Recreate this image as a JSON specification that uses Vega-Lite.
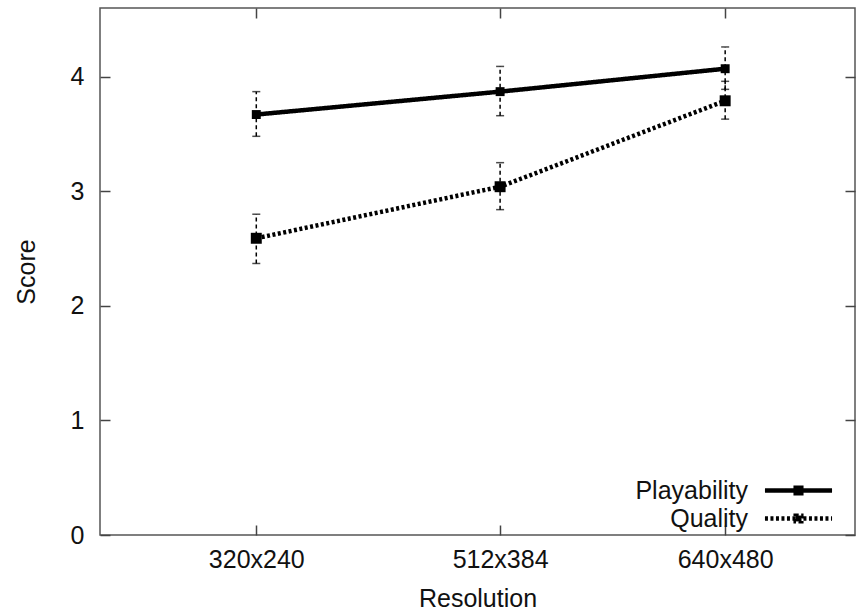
{
  "$schema": "https://vega.github.io/schema/vega-lite/v6.json",
  "width": 755,
  "height": 527,
  "autosize": {"type": "none"},
  "padding": {"left": 100, "top": 8, "right": 10, "bottom": 78},
  "background": "white",
  "config": {
    "font": "Liberation Sans",
    "view": {"stroke": "#555", "strokeWidth": 1.5},
    "axis": {"grid": false, "domain": false, "tickColor": "#444", "tickWidth": 1.5, "tickSize": 10, "offset": -10, "labelFontSize": 25, "titleFontSize": 25, "titleFontWeight": "normal", "labelColor": "#111", "titleColor": "#111", "labelFont": "Liberation Sans", "titleFont": "Liberation Sans"},
    "legend": {"labelFont": "Liberation Sans"}
  },
  "data": {
    "values": [
      {"series": "Playability", "pixels": 76800, "score": 3.67, "lo": 3.48, "hi": 3.87},
      {"series": "Playability", "pixels": 196608, "score": 3.87, "lo": 3.66, "hi": 4.09},
      {"series": "Playability", "pixels": 307200, "score": 4.07, "lo": 3.89, "hi": 4.26},
      {"series": "Quality", "pixels": 76800, "score": 2.59, "lo": 2.37, "hi": 2.80},
      {"series": "Quality", "pixels": 196608, "score": 3.04, "lo": 2.84, "hi": 3.25},
      {"series": "Quality", "pixels": 307200, "score": 3.79, "lo": 3.63, "hi": 3.96}
    ]
  },
  "resolve": {"axis": {"x": "independent", "y": "independent"}},
  "layer": [
    {
      "mark": {"type": "rule", "strokeWidth": 1.5, "strokeDash": [4, 3], "color": "#000"},
      "encoding": {
        "x": {"field": "pixels", "type": "quantitative", "scale": {"domain": [0, 371000], "nice": false, "zero": false},
              "axis": {"orient": "top", "offset": -10, "values": [76800, 196608, 307200], "labels": false, "title": null}},
        "y": {"field": "lo", "type": "quantitative", "scale": {"domain": [0, 4.6], "nice": false},
              "axis": {"orient": "right", "offset": -10, "values": [0, 1, 2, 3, 4], "labels": false, "title": null}},
        "y2": {"field": "hi"}
      }
    },
    {
      "mark": {"type": "tick", "orient": "horizontal", "size": 8, "thickness": 1.5, "color": "#000"},
      "encoding": {
        "x": {"field": "pixels", "type": "quantitative", "axis": null},
        "y": {"field": "lo", "type": "quantitative", "axis": null}
      }
    },
    {
      "mark": {"type": "tick", "orient": "horizontal", "size": 8, "thickness": 1.5, "color": "#000"},
      "encoding": {
        "x": {"field": "pixels", "type": "quantitative", "axis": null},
        "y": {"field": "hi", "type": "quantitative", "axis": null}
      }
    },
    {
      "mark": {"type": "line", "strokeWidth": 4.5, "color": "#000"},
      "encoding": {
        "x": {"field": "pixels", "type": "quantitative", "title": "Resolution",
              "axis": {"orient": "bottom", "offset": -10, "values": [76800, 196608, 307200], "labelPadding": 12, "titlePadding": 14,
                       "labelExpr": "datum.value == 76800 ? '320x240' : datum.value == 196608 ? '512x384' : '640x480'"}},
        "y": {"field": "score", "type": "quantitative", "title": "Score",
              "axis": {"orient": "left", "offset": -10, "values": [0, 1, 2, 3, 4], "labelPadding": 16, "titlePadding": 31}},
        "strokeDash": {"field": "series", "type": "nominal",
                       "scale": {"domain": ["Playability", "Quality"], "range": [[1, 0], [3, 2.5]]},
                       "legend": {"title": null, "orient": "none", "legendX": 685, "legendY": 469, "padding": 0,
                                  "symbolType": "M-3,0H3M-0.25,-0.25H0.25V0.25H-0.25Z", "symbolSize": 500, "symbolStrokeWidth": 4.5, "symbolStrokeColor": "#000", "symbolFillColor": "#000",
                                  "labelFontSize": 25, "labelColor": "#111", "labelAlign": "right", "labelOffset": -64, "rowPadding": 1, "labelLimit": 300}}
      }
    },
    {
      "transform": [{"filter": "datum.series == 'Playability'"}],
      "mark": {"type": "point", "shape": "square", "filled": true, "color": "#000", "opacity": 1, "size": 80},
      "encoding": {
        "x": {"field": "pixels", "type": "quantitative", "axis": null},
        "y": {"field": "score", "type": "quantitative", "axis": null}
      }
    },
    {
      "transform": [{"filter": "datum.series == 'Quality'"}],
      "mark": {"type": "point", "shape": "square", "filled": true, "color": "#000", "opacity": 1, "size": 120},
      "encoding": {
        "x": {"field": "pixels", "type": "quantitative", "axis": null},
        "y": {"field": "score", "type": "quantitative", "axis": null}
      }
    }
  ]
}
